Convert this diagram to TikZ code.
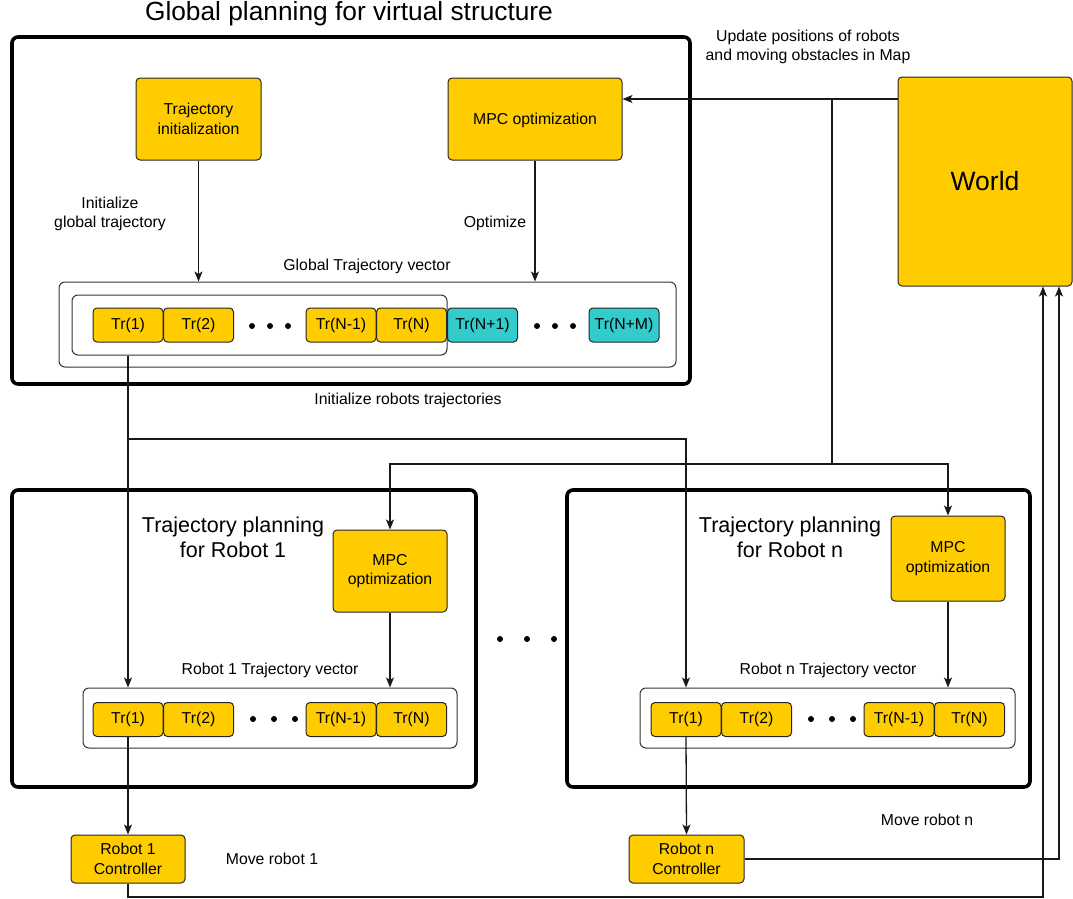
\documentclass[tikz,border=0pt]{standalone}
\usepackage{fontspec}
\setmainfont{Liberation Sans}
\usetikzlibrary{arrows.meta}
\definecolor{amber}{HTML}{FFCC00}
\definecolor{aqua}{HTML}{33CCCC}
\newcommand{\lbltxt}{\fontsize{15.8}{19.5}\selectfont}
\newcommand{\headtxt}{\fontsize{21.5}{25}\selectfont}
\begin{document}
\begin{tikzpicture}[x=1pt,y=-1pt,
  blk/.style={draw=black!85, line width=1pt, rounded corners=4pt, fill=amber,
    align=center, inner sep=0pt, font=\lbltxt},
  trbox/.style={blk, minimum width=70pt, minimum height=34pt},
  trnew/.style={trbox, fill=aqua},
  frame/.style={draw=black, line width=3.6pt, rounded corners=6pt, inner sep=0pt},
  vecbox/.style={draw=black!80, line width=1pt, rounded corners=6pt, fill=white, inner sep=0pt},
  wire/.style={draw=black!90, line width=1.3pt},
  conn/.style={wire, -{Stealth[length=10pt,width=8pt,inset=2.5pt]}},
  txt/.style={font=\lbltxt, align=center, inner sep=0pt},
  head/.style={font=\headtxt, align=center, inner sep=0pt},
  dot/.style={circle, fill=black, inner sep=0pt, minimum size=6pt}
]
\useasboundingbox (0,0) rectangle (1073,899);

% ---------- global planning ----------
\node[font=\fontsize{26.3}{30}\selectfont, inner sep=0pt] (gtitle) at (349,14) {Global planning for virtual structure};
\node[frame, minimum width=678pt, minimum height=347pt] (gframe) at (351,210.5) {};

\node[blk, minimum width=125pt, minimum height=82pt, text depth=-2pt] (tinit) at (198.5,119) {Trajectory\\initialization};
\node[blk, minimum width=174pt, minimum height=82pt, text depth=-2pt] (gmpc) at (535,119) {MPC optimization};

\node[txt] (linit) at (110,214) {Initialize\\global trajectory};
\node[txt] (lopt) at (495,223) {Optimize};
\node[txt] (lgvec) at (367,266) {Global Trajectory vector};

\node[vecbox, minimum width=617pt, minimum height=85pt] (gvec) at (367.5,324.5) {};
\node[vecbox, fill=none, minimum width=375pt, minimum height=60pt] (ginner) at (259.5,325) {};

\node[trbox] (g1) at (128,325) {Tr(1)};
\node[trbox] (g2) at (198.5,325) {Tr(2)};
\node[dot] (gd1) at (252,326) {};
\node[dot] (gd2) at (270,326) {};
\node[dot] (gd3) at (288,326) {};
\node[trbox] (gn1) at (341,325) {Tr(N-1)};
\node[trbox] (gn) at (411.5,325) {Tr(N)};
\node[trnew] (gnp1) at (482.5,325) {Tr(N+1)};
\node[dot] (gd4) at (537,326) {};
\node[dot] (gd5) at (555,326) {};
\node[dot] (gd6) at (573,326) {};
\node[trnew] (gnm) at (624,325) {Tr(N+M)};

\draw[conn] (tinit.south) -- (tinit.south |- gvec.north);
\draw[conn] (gmpc.south) -- (gmpc.south |- gvec.north);

\node[txt] (linitr) at (408,400) {Initialize robots trajectories};

% ---------- world ----------
\node[blk, font=\fontsize{26.5}{30}\selectfont, minimum width=174pt, minimum height=209pt] (world) at (985,181.5) {World};
\node[txt] (lupd) at (808,47) {Update positions of robots\\and moving obstacles in Map};

% ---------- robot 1 ----------
\node[frame, minimum width=464pt, minimum height=297pt] (r1frame) at (244,638.5) {};
\node[head] (r1title) at (233,537) {Trajectory planning\\for Robot 1};
\node[blk, minimum width=114pt, minimum height=82pt] (r1mpc) at (390,571) {MPC\\optimization};
\node[txt] (lr1vec) at (270,670) {Robot 1 Trajectory vector};
\node[vecbox, minimum width=374pt, minimum height=60pt] (r1vec) at (270,718) {};
\node[trbox] (a1) at (128,719.5) {Tr(1)};
\node[trbox] (a2) at (198.5,719.5) {Tr(2)};
\node[dot] (ad1) at (253,719) {};
\node[dot] (ad2) at (274,719) {};
\node[dot] (ad3) at (295,719) {};
\node[trbox] (an1) at (341,719.5) {Tr(N-1)};
\node[trbox] (an) at (411.5,719.5) {Tr(N)};
\node[blk, minimum width=114pt, minimum height=48pt] (r1ctrl) at (128,859) {Robot 1\\Controller};
\node[txt] (lmove1) at (272,859) {Move robot 1};

% ---------- between ----------
\node[dot] (md1) at (500,639) {};
\node[dot] (md2) at (527,639) {};
\node[dot] (md3) at (554,639) {};

% ---------- robot n ----------
\node[frame, minimum width=463pt, minimum height=297pt] (rnframe) at (798.5,638.5) {};
\node[head] (rntitle) at (790,537) {Trajectory planning\\for Robot n};
\node[blk, minimum width=114pt, minimum height=85pt] (rnmpc) at (948,558.5) {MPC\\optimization};
\node[txt] (lrnvec) at (828,670) {Robot n Trajectory vector};
\node[vecbox, minimum width=375pt, minimum height=60pt] (rnvec) at (827.5,718) {};
\node[trbox] (b1) at (686,719.5) {Tr(1)};
\node[trbox] (b2) at (756.5,719.5) {Tr(2)};
\node[dot] (bd1) at (811,719) {};
\node[dot] (bd2) at (832,719) {};
\node[dot] (bd3) at (853,719) {};
\node[trbox] (bn1) at (899,719.5) {Tr(N-1)};
\node[trbox] (bn) at (969.5,719.5) {Tr(N)};
\node[blk, minimum width=115pt, minimum height=48pt] (rnctrl) at (686.5,859) {Robot n\\Controller};
\node[txt] (lmoven) at (927,820) {Move robot n};

% ---------- connectors ----------
% world state to the planners
\coordinate (wj) at (832,99);
\coordinate (bj) at (832,464);
\draw[conn] (world.west |- wj) -- (gmpc.east |- wj);
\draw[wire] (wj) -- (bj);
\draw[conn] (bj) -| (r1mpc.north);
\draw[conn] (bj) -| (rnmpc.north);

% global trajectory to robot trajectories
\coordinate (gj) at (128,439);
\draw[conn] (g1.south |- ginner.south) -- (a1.north |- r1vec.north);
\draw[conn] (gj) -| (b1.north |- rnvec.north);

% local optimization into robot vectors
\draw[conn] (r1mpc.south) -- (r1mpc.south |- r1vec.north);
\draw[conn] (rnmpc.south) -- (rnmpc.south |- rnvec.north);

% robot vectors to controllers
\draw[conn] (a1.south) -- (r1ctrl.north);
\draw[conn] (b1.south) -- (rnctrl.north);

% controllers move robots in the world
\coordinate (fb1) at (1043,897);
\coordinate (fbn) at (1059,859);
\draw[conn] (r1ctrl.south) |- (fb1) -- (fb1 |- world.south);
\draw[conn] (rnctrl.east) -- (fbn) -- (fbn |- world.south);
\end{tikzpicture}
\end{document}
